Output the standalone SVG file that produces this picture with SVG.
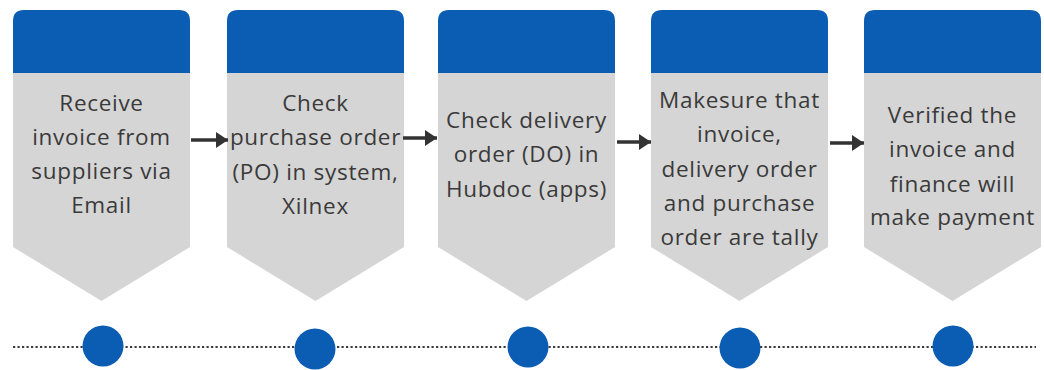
<svg xmlns="http://www.w3.org/2000/svg" width="1044" height="370" viewBox="0 0 1044 370">
  <defs>
    <style>
      .hdr { fill: #0b5cb3; }
      .body { fill: #d5d5d5; }
      .lbl { font-family: "Open Sans", "Liberation Sans", sans-serif; font-size: 22.5px; letter-spacing: 0.7px; fill: #3a3a3a; text-anchor: middle; }
      .arrow { stroke: #333333; stroke-width: 3.4; fill: none; marker-end: url(#head); }
      .dot { fill: #0b5cb3; }
      .tl { stroke: #3a3a3a; stroke-width: 2.2; stroke-dasharray: 2.2 2.3; fill: none; }
    </style>
    <marker id="head" markerUnits="userSpaceOnUse" markerWidth="13" markerHeight="16" refX="12" refY="8" orient="auto">
      <path d="M0,0 L12,8 L0,16 Z" fill="#333333"/>
    </marker>
  </defs>
  <rect width="1044" height="370" fill="#ffffff"/>

  <g id="timeline">
    <line class="tl" x1="13" y1="347" x2="1036" y2="347"/>
  </g>

  <g id="node1">
    <path class="hdr" d="M13,73 V21 Q13,10 24,10 H179 Q190,10 190,21 V73 Z"/>
    <path class="body" d="M13,73 H190 V247 L101.5,301 L13,247 Z"/>
    <text class="lbl" x="101.5" y="111">Receive</text>
    <text class="lbl" x="101.5" y="145">invoice from</text>
    <text class="lbl" x="101.5" y="179">suppliers via</text>
    <text class="lbl" x="101.5" y="213">Email</text>
    <circle class="dot" cx="103" cy="346" r="20.5"/>
  </g>

  <g id="node2">
    <path class="hdr" d="M227,73 V21 Q227,10 238,10 H393 Q404,10 404,21 V73 Z"/>
    <path class="body" d="M227,73 H404 V247 L315.5,301 L227,247 Z"/>
    <text class="lbl" x="315.5" y="111">Check</text>
    <text class="lbl" x="315.5" y="145">purchase order</text>
    <text class="lbl" x="315.5" y="180">(PO) in system,</text>
    <text class="lbl" x="315.5" y="214">Xilnex</text>
    <circle class="dot" cx="315" cy="349" r="20.5"/>
  </g>

  <g id="node3">
    <path class="hdr" d="M438,73 V21 Q438,10 449,10 H604 Q615,10 615,21 V73 Z"/>
    <path class="body" d="M438,73 H615 V247 L526.5,301 L438,247 Z"/>
    <text class="lbl" x="526.5" y="128">Check delivery</text>
    <text class="lbl" x="526.5" y="162">order (DO) in</text>
    <text class="lbl" x="526.5" y="197">Hubdoc (apps)</text>
    <circle class="dot" cx="528" cy="347" r="20.5"/>
  </g>

  <g id="node4">
    <path class="hdr" d="M651,73 V21 Q651,10 662,10 H817 Q828,10 828,21 V73 Z"/>
    <path class="body" d="M651,73 H828 V247 L739.5,301 L651,247 Z"/>
    <text class="lbl" x="739.5" y="108">Makesure that</text>
    <text class="lbl" x="739.5" y="142">invoice,</text>
    <text class="lbl" x="739.5" y="177">delivery order</text>
    <text class="lbl" x="739.5" y="211">and purchase</text>
    <text class="lbl" x="739.5" y="245">order are tally</text>
    <circle class="dot" cx="740" cy="348" r="20.5"/>
  </g>

  <g id="node5">
    <path class="hdr" d="M864,73 V21 Q864,10 875,10 H1030 Q1041,10 1041,21 V73 Z"/>
    <path class="body" d="M864,73 H1041 V247 L952.5,301 L864,247 Z"/>
    <text class="lbl" x="952.5" y="123">Verified the</text>
    <text class="lbl" x="952.5" y="157">invoice and</text>
    <text class="lbl" x="952.5" y="192">finance will</text>
    <text class="lbl" x="952.5" y="225">make payment</text>
    <circle class="dot" cx="953" cy="346" r="20.5"/>
  </g>

  <g id="connectors">
    <line class="arrow" x1="191" y1="140" x2="228" y2="140"/>
    <line class="arrow" x1="403" y1="138" x2="437" y2="138"/>
    <line class="arrow" x1="617" y1="142" x2="651" y2="142"/>
    <line class="arrow" x1="830" y1="143" x2="864" y2="143"/>
  </g>
</svg>
